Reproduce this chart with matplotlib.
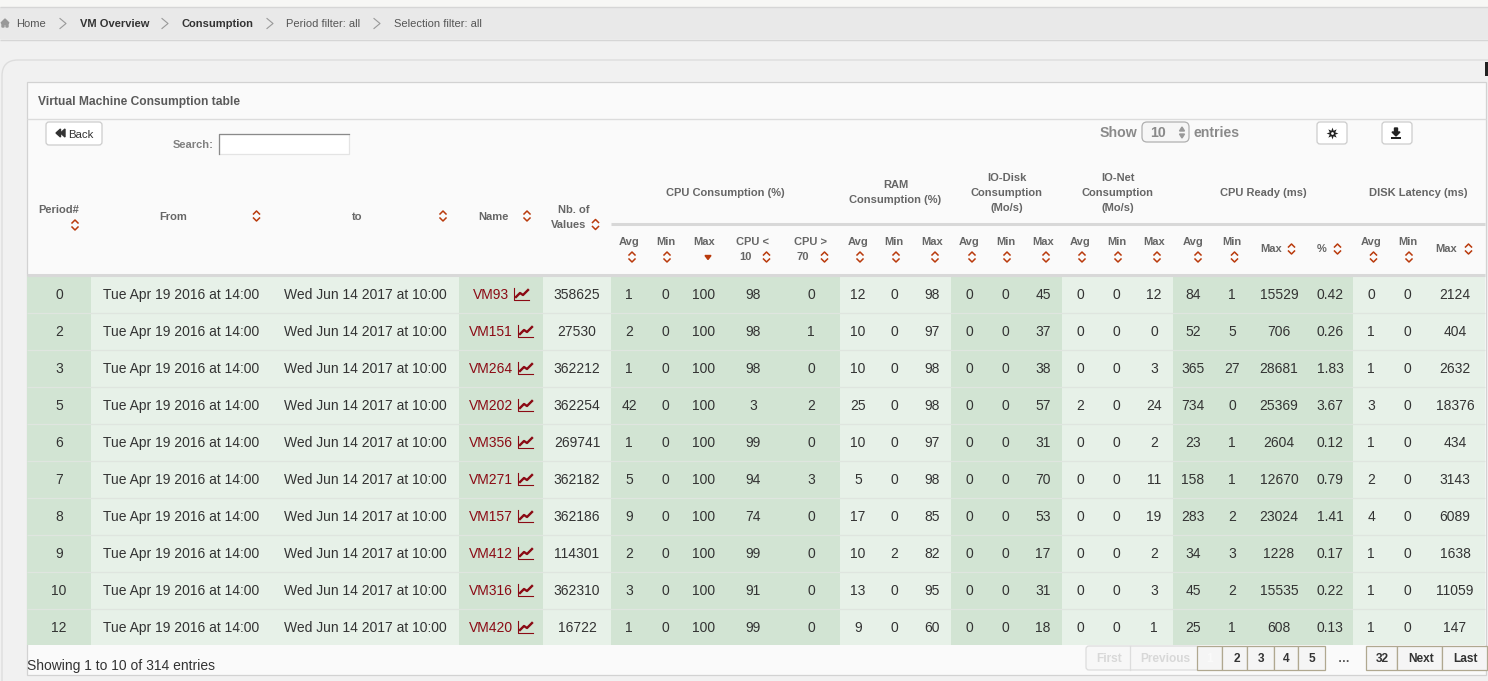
import matplotlib
matplotlib.use("Agg")
import matplotlib.pyplot as plt
from matplotlib.patches import Rectangle, FancyBboxPatch

plt.rcParams['font.family'] = ['Liberation Sans', 'DejaVu Sans']

# ===== Table data =====
periods = [0, 2, 3, 5, 6, 7, 8, 9, 10, 12]
date_from = ["Tue Apr 19 2016 at 14:00"] * 10
date_to = ["Wed Jun 14 2017 at 10:00"] * 10
names = ["VM93", "VM151", "VM264", "VM202", "VM356", "VM271", "VM157", "VM412", "VM316", "VM420"]
nb_values = [358625, 27530, 362212, 362254, 269741, 362182, 362186, 114301, 362310, 16722]

cpu_avg = [1, 2, 1, 42, 1, 5, 9, 2, 3, 1]
cpu_min = [0] * 10
cpu_max = [100] * 10
cpu_lt10 = [98, 98, 98, 3, 99, 94, 74, 99, 91, 99]
cpu_gt70 = [0, 1, 0, 2, 0, 3, 0, 0, 0, 0]
ram_avg = [12, 10, 10, 25, 10, 5, 17, 10, 13, 9]
ram_min = [0, 0, 0, 0, 0, 0, 0, 2, 0, 0]
ram_max = [98, 97, 98, 98, 97, 98, 85, 82, 95, 60]
disk_avg = [0] * 10
disk_min = [0] * 10
disk_max = [45, 37, 38, 57, 31, 70, 53, 17, 31, 18]
net_avg = [0, 0, 0, 2, 0, 0, 0, 0, 0, 0]
net_min = [0] * 10
net_max = [12, 0, 3, 24, 2, 11, 19, 2, 3, 1]
ready_avg = [84, 52, 365, 734, 23, 158, 283, 34, 45, 25]
ready_min = [1, 5, 27, 0, 1, 1, 2, 3, 2, 1]
ready_max = [15529, 706, 28681, 25369, 2604, 12670, 23024, 1228, 15535, 608]
ready_pct = ["0.42", "0.26", "1.83", "3.67", "0.12", "0.79", "1.41", "0.17", "0.22", "0.13"]
lat_avg = [0, 1, 1, 3, 1, 2, 4, 1, 1, 1]
lat_min = [0] * 10
lat_max = [2124, 404, 2632, 18376, 434, 3143, 6089, 1638, 11059, 147]

# ===== Colours =====
dark_green = "#d2e4d3"
light_green = "#e7f1e8"
header_grey = "#666666"
body_text = "#333333"
vm_red = "#8b0a14"
sort_red = "#b93a0c"

# ===== Column layout (centre x, data) =====
columns = [
    (59, periods), (181.5, date_from), (365.5, date_to), (577, nb_values),
    (629, cpu_avg), (665, cpu_min), (704, cpu_max), (753, cpu_lt10), (811, cpu_gt70),
    (858, ram_avg), (894, ram_min), (932, ram_max),
    (969, disk_avg), (1005, disk_min), (1043, disk_max),
    (1080, net_avg), (1116, net_min), (1154, net_max),
    (1193, ready_avg), (1232, ready_min), (1279, ready_max), (1330, ready_pct),
    (1371, lat_avg), (1407, lat_min), (1455, lat_max),
]
bands = [(27, 91, dark_green), (91, 459, light_green), (459, 543, dark_green),
         (543, 611, light_green), (611, 840, dark_green), (840, 951, light_green),
         (951, 1062, dark_green), (1062, 1173, light_green), (1173, 1353, dark_green),
         (1353, 1485, light_green)]

# ===== Figure in pixel coordinates =====
fig = plt.figure(figsize=(14.88, 6.81), dpi=100, facecolor="#f1f1f1")
ax = fig.add_axes([0, 0, 1, 1])
ax.set_xlim(0, 1488)
ax.set_ylim(681, 0)
ax.axis("off")


def box(x0, y0, x1, y1, fc, ec="none", lw=0, z=1):
    ax.add_patch(Rectangle((x0, y0), x1 - x0, y1 - y0, fc=fc, ec=ec, lw=lw, zorder=z))


def hline(y, x0, x1, color="#d8d8d8", lw=1.0, z=2):
    ax.plot([x0, x1], [y, y], color=color, lw=lw, zorder=z, solid_capstyle="butt")


def round_btn(x0, y0, x1, y1, fc="white", ec="#cccccc", r=3, z=3):
    ax.add_patch(FancyBboxPatch((x0 + r, y0 + r), x1 - x0 - 2 * r, y1 - y0 - 2 * r,
                                boxstyle=f"round,pad={r},rounding_size={r}",
                                fc=fc, ec=ec, lw=0.9, zorder=z))


def label(x, y, s, size=8.0, color=header_grey, weight="bold", ha="center", z=5):
    # baseline on a whole pixel so rows do not jitter
    base = round(y + size * 0.5)
    ax.text(x, base, s, fontsize=size, color=color, fontweight=weight, ha=ha,
            va="baseline", zorder=z)


def sort_icon(x, y):
    ax.plot([x - 3, x, x + 3], [y - 2, y - 5, y - 2], color=sort_red, lw=1.1, zorder=5)
    ax.plot([x - 3, x, x + 3], [y + 2, y + 5, y + 2], color=sort_red, lw=1.1, zorder=5)


def chart_icon(x, y):
    # little line chart next to the VM name
    ax.plot([x, x, x + 15], [y - 6, y + 6, y + 6], color=vm_red, lw=0.8, zorder=5)
    ax.plot([x + 2, x + 6, x + 9, x + 14], [y + 3, y - 1, y + 1, y - 4], color=vm_red, lw=1.7, zorder=5)


def chevron(x, y):
    ax.plot([x - 3, x + 3, x - 3], [y - 5, y, y + 5], color="#999999", lw=0.8, zorder=5)


# ===== Breadcrumb bar =====
box(0, 0, 1488, 7, "#f7f7f5")
box(0, 7, 1488, 39, "#e9e9e9")
hline(6.5, 0, 1488, "#d6d6d6")
hline(39.5, 0, 1488, "#d6d6d6")
ax.fill([1, 5, 9, 8, 8, 6, 6, 4, 4, 2, 2], [23, 19, 23, 23, 27, 27, 24.5, 24.5, 27, 27, 23],
        color="#999999", zorder=5)
label(16, 23, "Home", 8.0, "#555555", "normal", "left")
label(80, 23, "VM Overview", 8.0, "#333333", "bold", "left")
label(182, 23, "Consumption", 8.0, "#333333", "bold", "left")
label(286.5, 23, "Period filter: all", 8.0, "#555555", "normal", "left")
label(393.5, 23, "Selection filter: all", 8.0, "#555555", "normal", "left")
for cx in [63, 165, 270, 377]:
    chevron(cx, 23.5)

# ===== Panels =====
ax.add_patch(FancyBboxPatch((18, 76), 1600, 800, boxstyle="round,pad=16,rounding_size=16",
                            fc="#f1f1f1", ec="#dddddd", lw=1.0, zorder=0.5))
box(27, 82, 1486, 675, "#fafafa", "#d2d2d2", 0.9, 1)
hline(118.5, 27, 1486, "#dcdcdc")
box(1485, 62, 1488, 76, "#222222", z=6)
label(38.5, 100.5, "Virtual Machine Consumption table", 8.65, "#5a5a5a", ha="left")

# ===== Controls =====
round_btn(46, 122, 102, 145)
ax.fill([56, 60.5, 60.5], [133, 129, 137], color="#333333", zorder=5)
ax.fill([60.5, 65, 65], [133, 129, 137], color="#333333", zorder=5)
label(68, 133.5, "Back", 8.2, "#333333", "normal", "left")
label(213.5, 144, "Search:", 8.0, "#808080", "bold", "right")
box(218.5, 133.5, 348.5, 153.5, "white", "#e4e4e4", 0.9, 3)
ax.plot([218.5, 218.5, 348.5], [153.5, 133.5, 133.5], color="#8a8a8a", lw=0.9, zorder=4)
label(1137, 132, "Show", 10.2, "#8a8a8a", "bold", "right")
round_btn(1142, 122, 1189, 142, "#f6f6f6", "#b0b0b0", 5)
label(1150, 132, "10", 10.2, "#8a8a8a", "bold", "left")
ax.fill([1179.5, 1182, 1184.5], [131, 127, 131], color="#999999", zorder=5)
ax.fill([1179.5, 1182, 1184.5], [134, 138, 134], color="#999999", zorder=5)
label(1193.5, 132, "entries", 10.2, "#8a8a8a", "bold", "left")
round_btn(1317, 122, 1347, 144)
ax.plot(1331.5, 133, marker=(8, 1, 0), ms=8.5, color="#222222", mew=0, zorder=5)
ax.plot(1331.5, 133, marker="o", ms=2, color="white", mew=0, zorder=6)
round_btn(1382, 122, 1412, 144)
ax.fill([1394.5, 1397.5, 1397.5, 1400, 1396, 1392, 1394.5], [128, 128, 132, 132, 136, 132, 132],
        color="#222222", zorder=5)
box(1391, 136.5, 1401, 138.5, "#222222", z=5)

# ===== Header =====
label(59, 209, "Period#")
sort_icon(75, 225)
label(173.5, 216, "From")
sort_icon(256.5, 216)
label(357.5, 216, "to")
sort_icon(443, 216)
label(493, 216, "Name")
sort_icon(527, 216)
label(574, 209, "Nb. of")
label(569, 224, "Values")
sort_icon(595.5, 224.5)

label(725.5, 192, "CPU Consumption (%)")
label(895.5, 184, "RAM")
label(895.5, 199, "Consumption (%)")
label(1006.5, 177, "IO-Disk")
label(1006.5, 192, "Consumption")
label(1006.5, 207, "(Mo/s)")
label(1117.5, 177, "IO-Net")
label(1117.5, 192, "Consumption")
label(1117.5, 207, "(Mo/s)")
label(1263, 192, "CPU Ready (ms)")
label(1418.5, 192, "DISK Latency (ms)")
hline(223.5, 611, 1485, "#d8d8d8", 2.2)

# two line sub-headers: (text x, text, icon x)
for tx, s, ix in [(629, "Avg", 632), (665.5, "Min", 667), (704, "Max", None),
                  (858, "Avg", 860), (894, "Min", 896), (932, "Max", 935),
                  (969, "Avg", 972), (1005.5, "Min", 1007), (1043, "Max", 1046),
                  (1080, "Avg", 1082), (1116.5, "Min", 1118), (1154, "Max", 1157),
                  (1193.5, "Avg", 1198), (1232, "Min", 1234.5),
                  (1371, "Avg", 1373.5), (1407.5, "Min", 1409)]:
    label(tx, 241, s)
    if ix is not None:
        sort_icon(ix, 257)
ax.fill([705, 708, 711], [255.5, 259.5, 255.5], color=sort_red, zorder=5)

label(753, 241, "CPU <")
label(745, 256, "10")
sort_icon(766.5, 257)
label(811, 241, "CPU >")
label(803, 256, "70")
sort_icon(824.5, 257)
label(1271, 248, "Max")
sort_icon(1291.5, 249)
label(1322, 248, "%")
sort_icon(1337.5, 249)
label(1446.5, 248, "Max")
sort_icon(1468.5, 249)

hline(274.5, 27, 1485, "#d8d8d8", 2.2)

# ===== Body =====
row_top = 276
row_h = 37
n_rows = len(periods)
for x0, x1, c in bands:
    box(x0, row_top, x1, row_top + row_h * n_rows - 1, c)
for i in range(1, n_rows):
    hline(row_top + row_h * i - 0.5, 27, 1485, "#dfe5df", 0.9)

for i in range(n_rows):
    yc = row_top + row_h * i + 18
    for cx, vals in columns:
        label(cx, yc, str(vals[i]), 10.0, body_text, "normal")
    # name cell: the shorter name sits a little further right, icon follows the text
    short = len(names[i]) == 4
    label(473 if short else 469, yc, names[i], 10.0, vm_red, "normal", "left")
    chart_icon(514 if short else 518, yc)

# ===== Footer =====
label(27, 665, "Showing 1 to 10 of 314 entries", 10.0, body_text, "normal", "left")
round_btn(1086, 646, 1199, 670, "#f7f7f7", "#dddddd", 3, 2)
ax.plot([1130, 1130], [646, 670], color="#dddddd", lw=0.9, zorder=3)
label(1109, 658, "First", 8.6, "#d8d8d8")
label(1165, 658, "Previous", 8.6, "#d8d8d8")
page_x = [1197, 1222, 1247, 1273.5, 1298, 1325]
for x0, x1 in zip(page_x, page_x[1:]):
    box(x0, 645.5, x1, 670, "#f5f5f5", "#b0a890", 0.9, 3)
end_x = [1365.5, 1396.5, 1441.5, 1487]
for x0, x1 in zip(end_x, end_x[1:]):
    box(x0, 645.5, x1, 670, "#f5f5f5", "#b0a890", 0.9, 3)
for cx, s, c in [(1210, "1", "#fafafa"), (1236.5, "2", "#333333"), (1261.5, "3", "#333333"),
                 (1286.5, "4", "#333333"), (1312, "5", "#333333"), (1344, "…", "#555555"),
                 (1382.5, "32", "#333333"), (1421, "Next", "#333333"), (1465, "Last", "#333333")]:
    label(cx, 658, s, 8.6, c)

fig.savefig("out.png", dpi=100, facecolor=fig.get_facecolor())
